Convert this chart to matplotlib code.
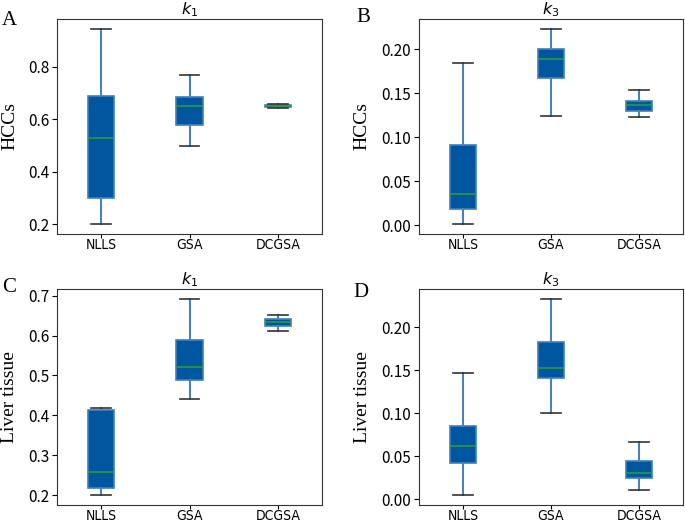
import matplotlib
matplotlib.use('Agg')
import matplotlib.pyplot as plt

# methods on the x axis
methods = ['NLLS', 'GSA', 'DCGSA']

# box stats: [whislo, q1, med, q3, whishi] per method
hcc_k1 = [[0.200, 0.300, 0.530, 0.690, 0.945],
          [0.500, 0.580, 0.650, 0.685, 0.770],
          [0.642, 0.647, 0.650, 0.653, 0.658]]
hcc_k3 = [[0.001, 0.018, 0.035, 0.091, 0.184],
          [0.124, 0.168, 0.189, 0.200, 0.2235],
          [0.1235, 0.130, 0.137, 0.141, 0.154]]
liver_k1 = [[0.200, 0.218, 0.257, 0.4125, 0.418],
            [0.441, 0.4875, 0.521, 0.589, 0.692],
            [0.612, 0.624, 0.635, 0.641, 0.652]]
liver_k3 = [[0.0047, 0.0426, 0.0616, 0.0853, 0.147],
            [0.1008, 0.141, 0.152, 0.1826, 0.233],
            [0.0105, 0.0252, 0.0306, 0.0442, 0.0663]]

panels = [
    ('A', 'HCCs', '$k_1$', hcc_k1, [0.2, 0.4, 0.6, 0.8], '%.1f'),
    ('B', 'HCCs', '$k_3$', hcc_k3, [0.0, 0.05, 0.10, 0.15, 0.20], '%.2f'),
    ('C', 'Liver tissue', '$k_1$', liver_k1, [0.2, 0.3, 0.4, 0.5, 0.6, 0.7], '%.1f'),
    ('D', 'Liver tissue', '$k_3$', liver_k3, [0.0, 0.05, 0.10, 0.15, 0.20], '%.2f'),
]

boxes_pos = [
    [57 / 685, 1 - 234 / 522, 265 / 685, 215 / 522],
    [419 / 685, 1 - 234 / 522, 264 / 685, 215 / 522],
    [57 / 685, 1 - 505 / 522, 265 / 685, 216 / 522],
    [419 / 685, 1 - 505 / 522, 264 / 685, 216 / 522],
]
# panel letter baselines (pixels) and y-label right edges (axes fraction)
letter_pos = [(2, 25), (356, 22), (2, 292), (353, 297)]
ylabel_x = [-0.145, -0.185, -0.149, -0.182]

tick_font = ['Noto Sans CJK SC', 'DejaVu Sans']

fig = plt.figure(figsize=(6.85, 5.22), dpi=100)

for (letter, ylab, title, data, yticks, fmt), pos, lp, lx in zip(panels, boxes_pos, letter_pos, ylabel_x):
    ax = fig.add_axes(pos)
    stats = []
    for name, s in zip(methods, data):
        stats.append({'label': name, 'whislo': s[0], 'q1': s[1], 'med': s[2],
                      'q3': s[3], 'whishi': s[4], 'fliers': []})
    ax.bxp(stats, widths=0.3, capwidths=0.22, patch_artist=True, showfliers=False,
           boxprops=dict(facecolor='#0057a0', edgecolor='#3f7fbf', linewidth=1.2),
           whiskerprops=dict(color='#4a82b8', linewidth=1.5),
           capprops=dict(color='#333333', linewidth=1.2),
           medianprops=dict(color='#2a9a3a', linewidth=1.2))
    ax.set_yticks(yticks)
    ax.set_yticklabels([fmt % v for v in yticks], family=tick_font, fontsize=11)
    for t in ax.get_xticklabels():
        t.set_family('DejaVu Sans')
        t.set_stretch('condensed')
        t.set_fontsize(10)
    ax.tick_params(axis='x', length=3, pad=0)
    ax.tick_params(axis='y', length=3.5, pad=2)
    ax.set_title(title, fontsize=11.5, pad=1)
    ax.set_ylabel(ylab, family='Liberation Serif', fontsize=14)
    ax.yaxis.set_label_coords(lx, 0.5)
    for sp in ax.spines.values():
        sp.set_color('#333333')
    fig.text(lp[0] / 685, 1 - lp[1] / 522, letter, family='Liberation Serif',
             fontsize=15, va='baseline')

fig.savefig('out.png', dpi=100)
